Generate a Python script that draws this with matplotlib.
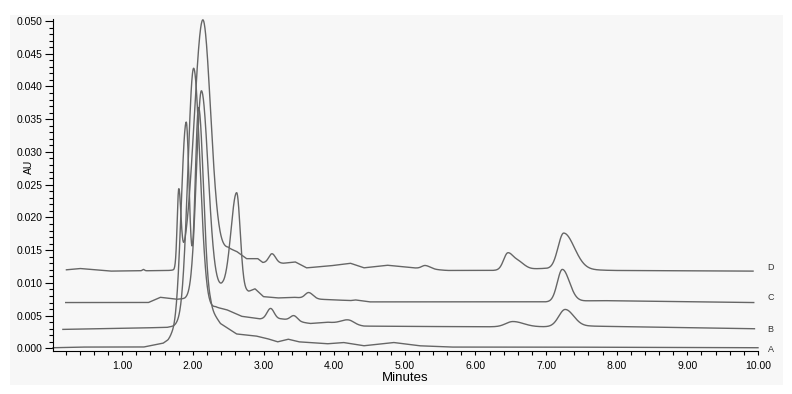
import numpy as np
import matplotlib
matplotlib.use('Agg')
import matplotlib.pyplot as plt
from matplotlib.patches import Rectangle
from matplotlib.ticker import MultipleLocator, FormatStrFormatter

plt.rcParams['font.family'] = ['Liberation Sans', 'DejaVu Sans']

# baseline points (minutes, AU) and peaks (time, height above baseline, left width, right width)
A_base_t = [0.02, 0.40, 1.30, 1.58, 1.65, 1.70, 2.25, 2.39, 2.62, 2.89, 3.05, 3.20, 3.35, 3.50,
            3.90, 4.13, 4.42, 4.84, 5.20, 5.64, 7.00, 10.0]
A_base_v = [0.0001, 0.0002, 0.0002, 0.0008, 0.0013, 0.0020, 0.0060, 0.0038, 0.0022, 0.0019, 0.0015,
            0.0010, 0.0014, 0.0010, 0.0007, 0.0009, 0.0004, 0.0009, 0.0004, 0.0002, 0.0002, 0.0001]
A_peaks = [(1.905, 0.031, 0.07, 0.045), (2.08, 0.032, 0.05, 0.07)]

B_base_t = [0.16, 0.69, 1.63, 1.73, 2.32, 2.48, 2.69, 2.95, 3.26, 3.66, 3.90, 4.42, 6.00, 6.30,
            6.97, 7.63, 9.95]
B_base_v = [0.0029, 0.0030, 0.0032, 0.0034, 0.0063, 0.0059, 0.0049, 0.0045, 0.0045, 0.0038, 0.0040,
            0.0034, 0.0033, 0.0033, 0.0033, 0.0034, 0.0030]
B_peaks = [(2.01, 0.038, 0.08, 0.09), (3.10, 0.0016, 0.05, 0.05), (3.43, 0.0008, 0.05, 0.05),
           (4.20, 0.0007, 0.10, 0.08), (6.53, 0.0008, 0.10, 0.15), (7.27, 0.0026, 0.09, 0.12)]

C_base_t = [0.20, 1.37, 1.54, 1.77, 1.89, 2.42, 2.79, 2.88, 3.00, 3.20, 3.43, 3.80, 4.23, 4.30,
            4.50, 7.00, 7.74, 9.94]
C_base_v = [0.0070, 0.0070, 0.0078, 0.0075, 0.0076, 0.0093, 0.0087, 0.0091, 0.0079, 0.0077, 0.0078,
            0.0075, 0.0073, 0.0074, 0.0071, 0.0071, 0.0073, 0.0070]
C_peaks = [(2.12, 0.031, 0.07, 0.095), (2.62, 0.0148, 0.08, 0.05), (3.64, 0.0009, 0.05, 0.06),
           (7.23, 0.0049, 0.07, 0.10)]

D_base_t = [0.21, 0.40, 0.83, 1.73, 2.30, 2.50, 2.62, 2.76, 2.92, 2.99, 3.28, 3.45, 3.61, 3.94,
            4.23, 4.42, 4.75, 5.12, 5.60, 6.23, 6.95, 7.95, 9.93]
D_base_v = [0.0120, 0.0122, 0.0118, 0.0119, 0.0145, 0.0153, 0.0148, 0.0137, 0.0137, 0.0131, 0.0130,
            0.0132, 0.0123, 0.0126, 0.0130, 0.0123, 0.0127, 0.0123, 0.0119, 0.0119, 0.0122, 0.0119,
            0.0118]
D_peaks = [(1.30, 0.0002, 0.015, 0.015), (1.80, 0.0115, 0.022, 0.03), (2.14, 0.0364, 0.12, 0.11),
           (3.12, 0.0014, 0.045, 0.05), (5.29, 0.0005, 0.05, 0.07), (6.46, 0.0026, 0.06, 0.09),
           (6.63, 0.0008, 0.06, 0.08), (7.25, 0.0055, 0.08, 0.15)]

trace_names = ['A', 'B', 'C', 'D']
label_y = [-0.0001, 0.0029, 0.0077, 0.0123]


def trace(base_t, base_v, peaks):
    t = np.linspace(base_t[0], base_t[-1], 3000)
    y = np.interp(t, base_t, base_v)
    for c, h, sl, sr in peaks:
        s = np.where(t < c, sl, sr)
        y = y + h * np.exp(-(t - c) ** 2 / (2 * s ** 2))
    return t, y


fig = plt.figure(figsize=(7.92, 3.94), dpi=100)
fig.patches.append(Rectangle((10 / 792, 1 - 385 / 394), 773 / 792, 370 / 394,
                             transform=fig.transFigure, facecolor='#f7f7f7', edgecolor='none',
                             zorder=-10))
ax = fig.add_axes([53 / 792, 1 - 351 / 394, 705 / 792, 332 / 394])
ax.set_zorder(5)
ax.set_facecolor('#f7f7f7')

for bt, bv, pk in [(A_base_t, A_base_v, A_peaks), (B_base_t, B_base_v, B_peaks),
                   (C_base_t, C_base_v, C_peaks), (D_base_t, D_base_v, D_peaks)]:
    t, y = trace(bt, bv, pk)
    ax.plot(t, y, color='#666666', lw=1.0, clip_on=False)

for name, yl in zip(trace_names, label_y):
    ax.text(10.18, yl, name, fontsize=6.5, color='#333333', ha='center', va='center', clip_on=False)

ax.set_xlim(0.02, 10.0)
ax.set_ylim(-0.0004, 0.0503)
ax.spines['top'].set_visible(False)
ax.spines['right'].set_visible(False)
ax.xaxis.set_major_locator(MultipleLocator(1.0))
ax.xaxis.set_minor_locator(MultipleLocator(0.2))
ax.yaxis.set_major_locator(MultipleLocator(0.005))
ax.yaxis.set_minor_locator(MultipleLocator(0.001))
ax.xaxis.set_major_formatter(FormatStrFormatter('%.2f'))
ax.yaxis.set_major_formatter(FormatStrFormatter('%.3f'))
ax.set_xticks([1, 2, 3, 4, 5, 6, 7, 8, 9, 10])
ax.tick_params(axis='y', which='major', length=6, width=0.8, labelsize=7.5, pad=1.5)
ax.tick_params(axis='y', which='minor', length=3, width=0.8)
ax.tick_params(axis='x', which='both', length=3, width=0.8, labelsize=7.5, pad=4)

ax.set_xlabel('Minutes', fontsize=9.5, labelpad=1)
fig.text(29 / 792, 1 - 167 / 394, 'AU', rotation=90, fontsize=7.5, ha='center', va='center')

plt.savefig('out.png', dpi=100)
